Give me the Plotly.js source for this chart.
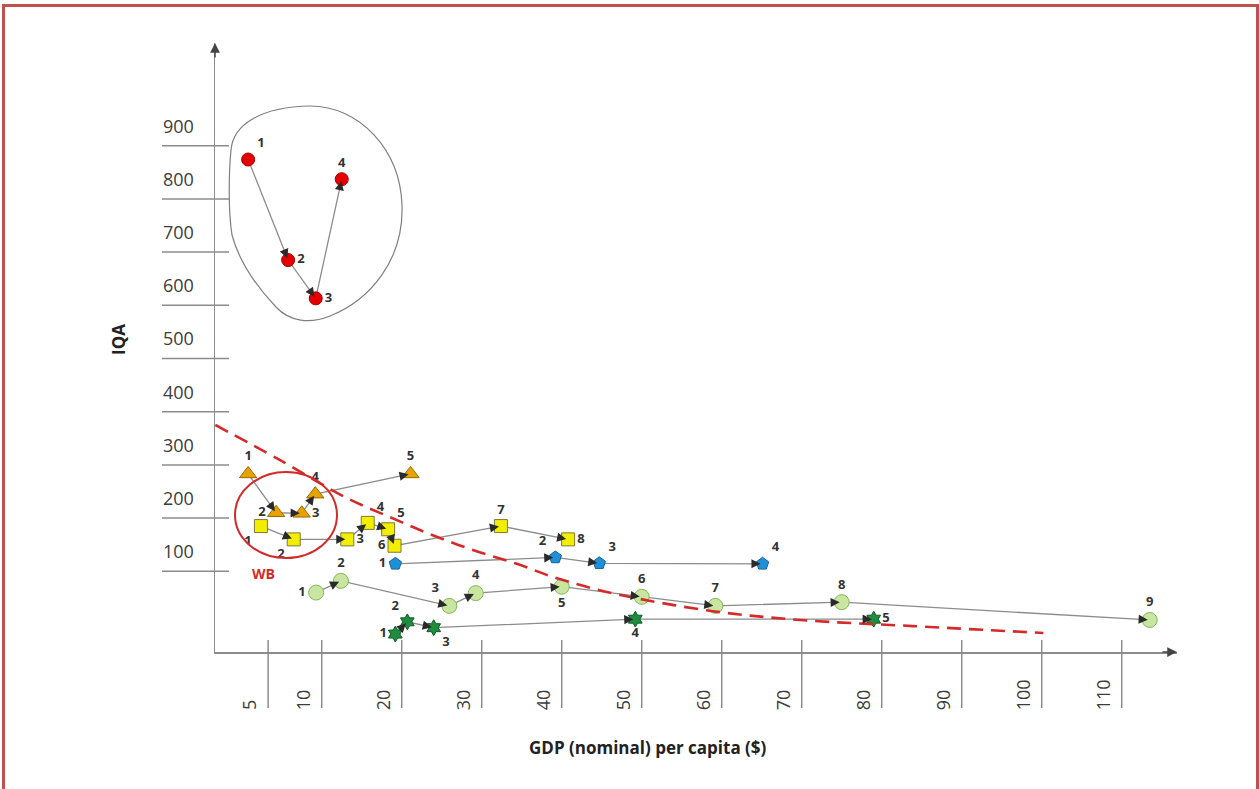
<!DOCTYPE html>
<html><head><meta charset="utf-8">
<script src="https://cdn.plot.ly/plotly-3.0.1.min.js"></script>
<style>
html,body{margin:0;padding:0;background:#fff;overflow:hidden;}
#chart{width:1259px;height:789px;position:absolute;left:0;top:0;}
#frame{position:absolute;left:2px;top:4px;width:1251px;height:820px;border:3px solid #c0504d;pointer-events:none;}
</style></head><body>
<div id="chart"></div><div id="frame"></div>
<script>
// ---- axis ticks (x positions on the drawn scale, labels as printed) ----
const xTickPos = [3.3, 10, 20, 30, 40, 50, 60, 70, 80, 90, 100, 110];
const xTickLabels = ['5','10','20','30','40','50','60','70','80','90','100','110'];
const yTickVals = [100, 200, 300, 400, 500, 600, 700, 800, 900];
const yTickLabels = ['100','200','300','400','500','600','700','800','900'];

// ---- series ----
const redX = [0.8, 5.8, 9.25, 12.5];
const redY = [874, 685, 613, 837];
const orangeX = [0.8, 4.3, 7.5, 9.2, 21.1];
const orangeY = [283, 210, 209, 245, 283];
const yellowX = [2.4, 6.5, 13.2, 15.75, 18.3, 19.1, 32.4, 40.8];
const yellowY = [185, 160, 160, 191, 179, 148, 185, 160];
const blueX = [19.2, 39.2, 44.7, 65.1];
const blueY = [114, 126, 115, 114];
const greenX = [9.3, 12.4, 25.95, 29.25, 40, 50, 59.2, 75, 113.5];
const greenY = [60, 82, 35, 59, 71, 52, 35, 42, 8.5];
const starX = [19.2, 20.7, 24, 49.2, 79];
const starY = [-18, 5, -6, 10, 10];
const trendX = [-3.3, 4.8, 13.1, 18.5, 23.5, 28.9, 34.4, 39.4, 46.9, 58.9, 69.8, 83.9, 100.2];
const trendY = [375, 309, 238, 202, 170, 140, 114, 87, 57, 25, 8.5, -3, -16];

const xTitle = 'GDP (nominal) per capita ($)';
const yTitle = 'IQA';
const groupLabel = 'WB';

// ---- layout geometry ----
const W = 1259, H = 789;
const M = {l: 215, r: 82, t: 43, b: 137};
const xRange = [-3.34, 116.91];
const yRange = [-51.7, 1093];
const plotW = W - M.l - M.r, plotH = H - M.t - M.b;
const pxX = plotW / (xRange[1] - xRange[0]);
const pxY = plotH / (yRange[1] - yRange[0]);
const dX = px => xRange[0] + (px - M.l) / pxX;
const dY = py => yRange[0] + (H - M.b - py) / pxY;

const labelFont = {family: 'Open Sans', size: 13, color: '#333', weight: 700};

function series(x, y, sym, size, fill, edge, pos) {
  return {
    type: 'scatter', mode: 'lines+markers+text', x: x, y: y,
    text: x.map((_, i) => String(i + 1)), textposition: pos, textfont: labelFont,
    line: {color: '#8c8c8c', width: 1.3},
    marker: {symbol: sym, size: size, color: fill, line: {color: edge, width: 1}},
    hoverinfo: 'skip', cliponaxis: false, showlegend: false
  };
}

function arrows(x, y) {
  const a = [];
  for (let i = 1; i < x.length; i++) {
    const dx = (x[i] - x[i-1]) * pxX, dy = -(y[i] - y[i-1]) * pxY;
    const L = Math.hypot(dx, dy);
    a.push({x: x[i], y: y[i], xref: 'x', yref: 'y', ax: -dx / L * 11, ay: -dy / L * 11,
      showarrow: true, arrowhead: 2, arrowsize: 1.3, arrowwidth: 1.4, arrowcolor: '#2a2a2a',
      standoff: 2, text: ''});
  }
  return a;
}

const traces = [
  series(redX, redY, 'circle', 13, '#e50000', '#a30000',
    ['top right', 'middle right', 'middle right', 'top center']),
  series(orangeX, orangeY, 'triangle-up', 15, '#e8a200', '#9a6a00',
    ['top center', 'middle left', 'middle right', 'top center', 'top center']),
  series(yellowX, yellowY, 'square', 13, '#f3ee00', '#7d7a3a',
    ['bottom left', 'bottom left', 'middle right', 'top right', 'top right', 'middle left', 'top center', 'middle right']),
  series(blueX, blueY, 'pentagon', 13, '#1f8fd6', '#15669e',
    ['middle left', 'top left', 'top right', 'top right']),
  series(greenX, greenY, 'circle', 15, '#c8e6a0', '#82b85a',
    ['middle left', 'top center', 'top left', 'top center', 'bottom center', 'top center', 'top center', 'top center', 'top center']),
  series(starX, starY, 'hexagram', 12, '#1f8c3f', '#0d5c24',
    ['middle left', 'top left', 'bottom right', 'bottom center', 'middle right']),
  {type: 'scatter', mode: 'lines', x: trendX, y: trendY, line: {color: '#d42a2a', width: 2.6, dash: '14px,8px', shape: 'spline'},
   hoverinfo: 'skip', showlegend: false}
];

let annotations = [];
[[redX, redY], [orangeX, orangeY], [yellowX, yellowY], [blueX, blueY], [greenX, greenY], [starX, starY]]
  .forEach(s => { annotations = annotations.concat(arrows(s[0], s[1])); });

yTickVals.forEach((v, i) => annotations.push({
  xref: 'paper', x: 0, xanchor: 'center', xshift: -37, yref: 'y', y: v, yshift: 20,
  text: yTickLabels[i], showarrow: false, font: {family: 'Open Sans', size: 18, color: '#3c3c3c'}
}));
xTickPos.forEach((v, i) => annotations.push({
  xref: 'x', x: v, xanchor: 'center', xshift: -19, yref: 'paper', y: 0, yanchor: 'bottom', yshift: -60,
  textangle: -90, text: xTickLabels[i], showarrow: false, font: {family: 'Open Sans', size: 18, color: '#3c3c3c'}
}));
annotations.push({xref: 'paper', yref: 'paper', x: (648 - M.l) / plotW, y: -(747 - (H - M.b)) / plotH,
  xanchor: 'center', yanchor: 'middle', text: xTitle, showarrow: false,
  font: {family: 'Open Sans', size: 17, color: '#222', weight: 700}});
annotations.push({xref: 'paper', yref: 'paper', x: (118 - M.l) / plotW, y: ((H - M.b) - 340) / plotH,
  xanchor: 'center', yanchor: 'middle', textangle: -90, text: yTitle, showarrow: false,
  font: {family: 'Open Sans', size: 17, color: '#222', weight: 700}});
annotations.push({xref: 'x', yref: 'y', x: dX(263), y: dY(573), text: groupLabel, showarrow: false,
  font: {family: 'Open Sans', size: 14, color: '#d42a2a', weight: 700}});
// axis arrowheads
annotations.push({xref: 'paper', yref: 'paper', x: 0, y: 1, ax: 0, ay: 16, text: '', showarrow: true,
  arrowhead: 2, arrowsize: 1.3, arrowwidth: 1.5, arrowcolor: '#444', standoff: 0});
annotations.push({xref: 'paper', yref: 'paper', x: 1, y: 0, ax: -16, ay: 0, text: '', showarrow: true,
  arrowhead: 2, arrowsize: 1.3, arrowwidth: 1.5, arrowcolor: '#444', standoff: 0});

const shapes = [];
yTickVals.forEach(v => shapes.push({type: 'line', xref: 'paper', xsizemode: 'pixel', xanchor: 0, x0: -53, x1: 14,
  yref: 'y', y0: v, y1: v, line: {color: '#8c8c8c', width: 1.5}}));
xTickPos.forEach(v => shapes.push({type: 'line', xref: 'x', x0: v, x1: v, yref: 'paper', ysizemode: 'pixel',
  yanchor: 0, y0: -56, y1: 12, line: {color: '#8c8c8c', width: 1.5}}));
// WB ellipse
shapes.push({type: 'circle', xref: 'x', yref: 'y', x0: dX(235), x1: dX(337), y0: dY(558), y1: dY(472),
  line: {color: '#d42a2a', width: 2}});
// outline round the red cluster
const blobPx = [[231,150],[233,125],[260,107],[310,106],[360,106],[400,150],[402,205],[404,260],[370,300],[330,316],
  [310,324],[290,322],[276,307],[258,288],[240,265],[232,235],[228,210],[229,170],[231,150]];
const bp = blobPx.map(p => dX(p[0]).toFixed(3) + ',' + dY(p[1]).toFixed(3));
let path = 'M' + bp[0];
for (let i = 1; i < bp.length; i += 3) path += ' C' + bp[i] + ' ' + bp[i+1] + ' ' + bp[i+2];
path += ' Z';
shapes.push({type: 'path', xref: 'x', yref: 'y', path: path, line: {color: '#7f7f7f', width: 1.2}});

const layout = {
  width: W, height: H, margin: M, paper_bgcolor: '#fff', plot_bgcolor: '#fff', showlegend: false,
  xaxis: {range: xRange, showline: true, linecolor: '#8c8c8c', linewidth: 1.5, showgrid: false, zeroline: false,
    showticklabels: false, ticks: ''},
  yaxis: {range: yRange, showline: true, linecolor: '#8c8c8c', linewidth: 1.5, showgrid: false, zeroline: false,
    showticklabels: false, ticks: ''},
  annotations: annotations, shapes: shapes
};
Plotly.newPlot('chart', traces, layout, {staticPlot: true, displayModeBar: false});
</script></body></html>
